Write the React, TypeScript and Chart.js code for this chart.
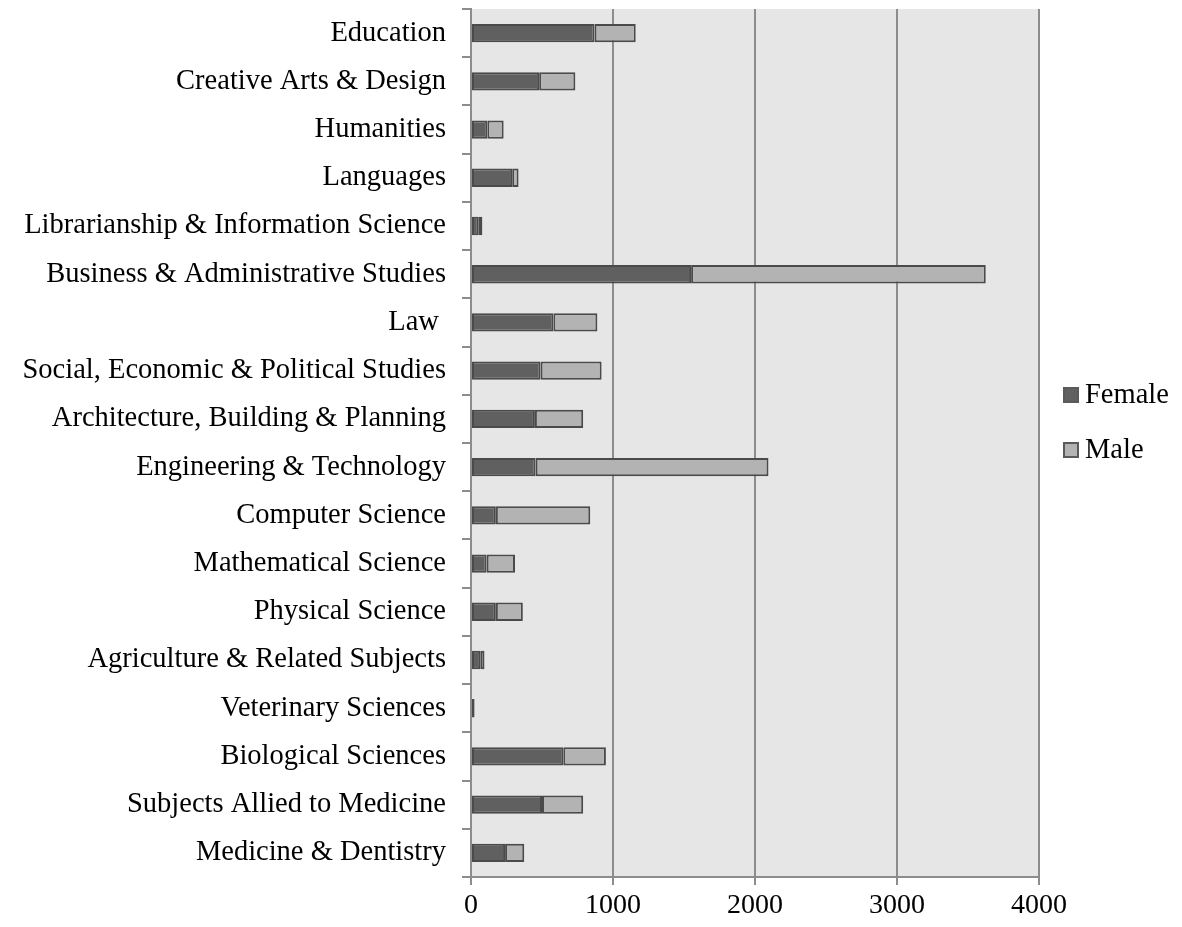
import React, { useEffect, useRef } from "react";
import { Chart, registerables } from "chart.js";

Chart.register(...registerables);

const categories = [
  "Education",
  "Creative Arts & Design",
  "Humanities",
  "Languages",
  "Librarianship & Information Science",
  "Business & Administrative Studies",
  "Law ",
  "Social, Economic & Political Studies",
  "Architecture, Building & Planning",
  "Engineering & Technology",
  "Computer Science",
  "Mathematical Science",
  "Physical Science",
  "Agriculture & Related Subjects",
  "Veterinary Sciences",
  "Biological Sciences",
  "Subjects Allied to Medicine",
  "Medicine & Dentistry",
];

const femaleValues = [870, 480, 115, 290, 55, 1550, 580, 490, 450, 455, 175, 110, 175, 65, 22, 650, 500, 240];
const maleValues = [290, 255, 115, 45, 25, 2075, 310, 430, 340, 1640, 665, 200, 190, 30, 4, 300, 290, 135];

const xTicks = [0, 1000, 2000, 3000, 4000];

const FONT = "'Liberation Serif', 'Times New Roman', serif";

const bgPlugin = {
  id: "plotBg",
  beforeDraw(chart: any) {
    const { ctx, chartArea } = chart;
    ctx.save();
    ctx.fillStyle = "#E6E6E6";
    ctx.fillRect(chartArea.left, chartArea.top, chartArea.right - chartArea.left, chartArea.bottom - chartArea.top);
    ctx.restore();
  },
};

const legendPlugin = {
  id: "sideLegend",
  afterDraw(chart: any) {
    const { ctx, chartArea } = chart;
    const midY = (chartArea.top + chartArea.bottom) / 2;
    const x0 = chartArea.right + 25;
    ctx.save();
    ctx.font = `28.5px ${FONT}`;
    ctx.textBaseline = "middle";
    ctx.textAlign = "left";
    chart.data.datasets.forEach((ds: any, i: number) => {
      const cy = midY - 48 + i * 55;
      ctx.fillStyle = ds.backgroundColor;
      ctx.fillRect(x0, cy - 7, 14, 14);
      ctx.strokeStyle = "#5A5A5A";
      ctx.lineWidth = 2;
      ctx.strokeRect(x0, cy - 7, 14, 14);
      ctx.fillStyle = "#000";
      ctx.fillText(ds.label, x0 + 21, cy + 1);
    });
    ctx.restore();
  },
};

export default function App() {
  const ref = useRef<HTMLCanvasElement>(null);
  useEffect(() => {
    document.body.style.margin = "0";
    const chart = new Chart(ref.current!, {
      type: "bar",
      data: {
        labels: categories,
        datasets: [
          {
            label: "Female",
            data: femaleValues,
            backgroundColor: "#606060",
            borderColor: "#4A4A4A",
            borderWidth: 2,
            borderSkipped: false,
            barPercentage: 0.38,
            categoryPercentage: 1,
          },
          {
            label: "Male",
            data: maleValues,
            backgroundColor: "#B3B3B3",
            borderColor: "#4A4A4A",
            borderWidth: 2,
            borderSkipped: false,
            barPercentage: 0.38,
            categoryPercentage: 1,
          },
        ],
      },
      options: {
        indexAxis: "y",
        animation: false,
        responsive: false,
        maintainAspectRatio: false,
        layout: { padding: { top: 9, left: 0, right: 143, bottom: 0 } },
        plugins: {
          tooltip: { enabled: false },
          legend: { display: false },
        },
        scales: {
          x: {
            stacked: true,
            min: 0,
            max: 4000,
            afterBuildTicks(scale: any) {
              scale.ticks = xTicks.map((v) => ({ value: v }));
            },
            afterFit(scale: any) {
              scale.height = 50;
              scale.paddingLeft = 0;
              scale.paddingRight = 0;
            },
            grid: {
              color: "#8C8C8C",
              lineWidth: 2,
              drawTicks: true,
              tickLength: 8,
            },
            border: { display: true, color: "#8C8C8C", width: 2 },
            ticks: {
              font: { family: FONT, size: 28 },
              color: "#000",
              padding: 4,
              maxRotation: 0,
              callback: (v: any) => String(v),
            },
          },
          y: {
            stacked: true,
            afterFit(scale: any) {
              scale.width = 471;
              scale.paddingTop = 0;
              scale.paddingBottom = 0;
            },
            grid: {
              display: true,
              drawOnChartArea: false,
              drawTicks: true,
              tickLength: 9,
              color: "#8C8C8C",
              lineWidth: 2,
              offset: true,
            },
            border: { display: true, color: "#8C8C8C", width: 2 },
            ticks: {
              font: { family: FONT, size: 28.5 },
              color: "#000",
              padding: 16,
              autoSkip: false,
            },
          },
        },
      },
      plugins: [bgPlugin, legendPlugin],
    });
    return () => chart.destroy();
  }, []);
  return (
    <div style={{ width: 1182, height: 927 }}>
      <canvas ref={ref} width={1182} height={927} style={{ display: "block" }} />
    </div>
  );
}
